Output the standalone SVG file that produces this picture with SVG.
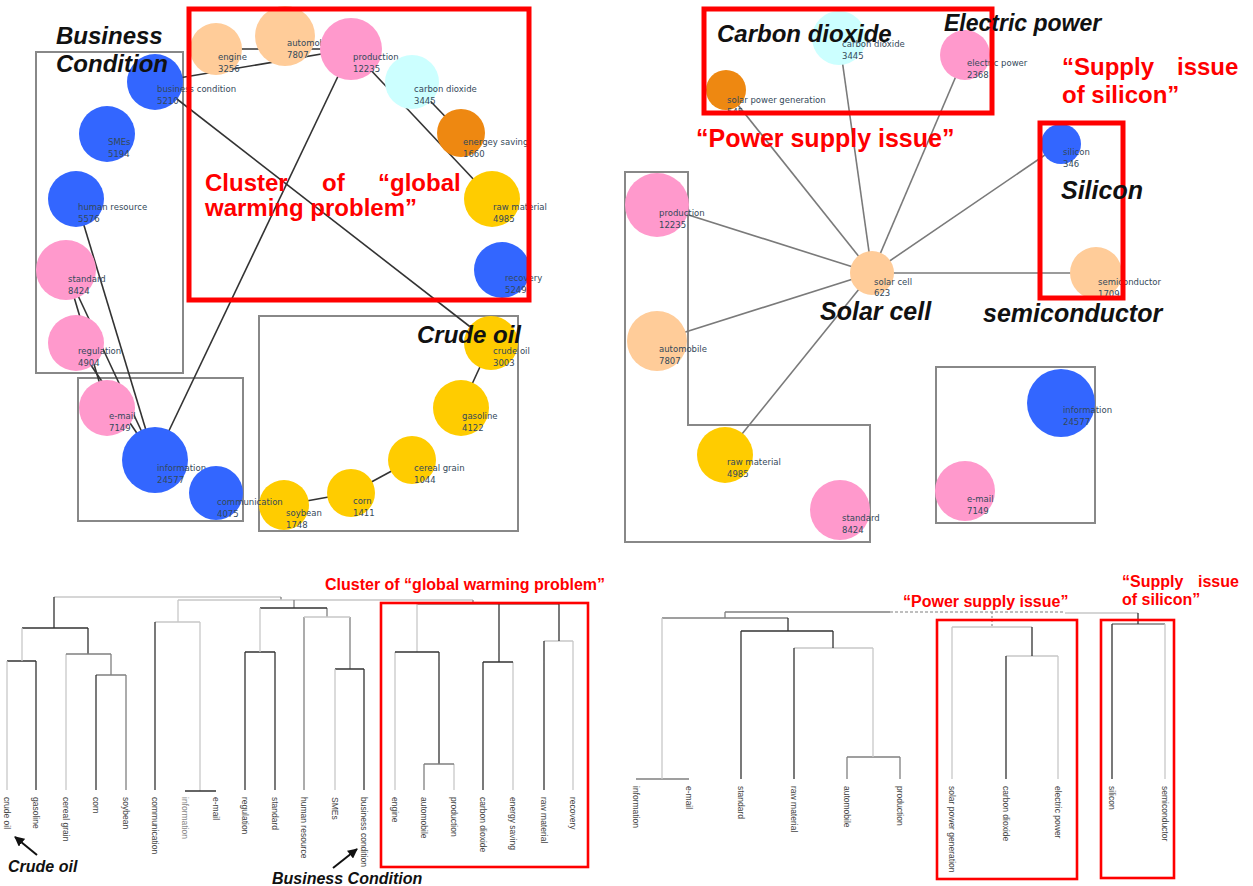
<svg xmlns="http://www.w3.org/2000/svg" width="1253" height="886" viewBox="0 0 1253 886">
  <style>
    .lk { stroke:#333; stroke-width:1.6; fill:none }
    .lk2 { stroke:#7a7a7a; stroke-width:1.6; fill:none }
    .grp { fill:none; stroke:#888; stroke-width:2 }
    .hl { fill:none; stroke:#ff0000; stroke-width:5 }
    .hl2 { fill:none; stroke:#ff0000; stroke-width:2.6 }
    .nl { font-family:"DejaVu Sans",Verdana,sans-serif; font-size:8.5px; fill:#34495a }
    .ann { font-family:"Liberation Sans",Arial,sans-serif; font-weight:bold; font-style:italic; fill:#111 }
    .rt { font-family:"Liberation Sans",Arial,sans-serif; font-weight:bold; fill:#ff0000 }
    .lf { font-family:"Liberation Sans",Arial,sans-serif; font-size:8.5px; fill:#444 }
    .d1 { stroke:#333; stroke-width:1.3; fill:none }
    .d2 { stroke:#808080; stroke-width:1.3; fill:none }
    .d3 { stroke:#c8c8c8; stroke-width:1.3; fill:none }
    .blue { fill:#3366ff } .pink { fill:#ff99cc } .peach { fill:#ffcc99 }
    .cyan { fill:#ccffff } .orange { fill:#ee8811 } .yellow { fill:#ffcc00 }
  </style>
  <defs>
    <marker id="arw" viewBox="0 0 10 10" refX="9" refY="5" markerWidth="5" markerHeight="5" orient="auto">
      <path d="M0 0 L10 5 L0 10 z" fill="#111"/>
    </marker>
  </defs>
  <rect width="1253" height="886" fill="#fff"/>

  <!-- ===== Left keyword network ===== -->
  <g id="tl-groups">
    <rect class="grp" x="36" y="52" width="147" height="321"/>
    <rect class="grp" x="78" y="378" width="165" height="143"/>
    <rect class="grp" x="259" y="316" width="259" height="215"/>
  </g>
  <g id="tl-connectors">
    <line class="lk" x1="155" y1="82" x2="351" y2="49"/>
    <line class="lk" x1="216" y1="49" x2="351" y2="49"/>
    <line class="lk" x1="155" y1="82" x2="491" y2="343"/>
    <line class="lk" x1="351" y1="49" x2="492" y2="199"/>
    <line class="lk" x1="412" y1="82" x2="461" y2="133"/>
    <line class="lk" x1="351" y1="49" x2="155" y2="460"/>
    <line class="lk" x1="76" y1="199" x2="155" y2="460"/>
    <line class="lk" x1="66" y1="270" x2="155" y2="460"/>
    <line class="lk" x1="66" y1="270" x2="107" y2="408"/>
    <line class="lk" x1="76" y1="343" x2="155" y2="460"/>
    <line class="lk" x1="491" y1="343" x2="461" y2="408"/>
    <line class="lk" x1="412" y1="460" x2="351" y2="493"/>
    <line class="lk" x1="351" y1="493" x2="284" y2="505"/>
  </g>
  <g id="tl-engine"><circle class="peach" cx="216" cy="49" r="26"/><text class="nl" x="218" y="60">engine<tspan x="218" dy="12">3256</tspan></text></g>
  <g id="tl-automobile"><circle class="peach" cx="285" cy="36" r="30"/><text class="nl" x="287" y="46">automobile<tspan x="287" dy="12">7807</tspan></text></g>
  <g id="tl-production"><circle class="pink" cx="351" cy="49" r="31"/><text class="nl" x="353" y="60">production<tspan x="353" dy="12">12235</tspan></text></g>
  <g id="tl-carbon-dioxide"><circle class="cyan" cx="412" cy="82" r="27"/><text class="nl" x="414" y="92">carbon dioxide<tspan x="414" dy="12">3445</tspan></text></g>
  <g id="tl-energy-saving"><circle class="orange" cx="461" cy="133" r="24"/><text class="nl" x="463" y="145">energey saving<tspan x="463" dy="12">1660</tspan></text></g>
  <g id="tl-raw-material"><circle class="yellow" cx="492" cy="199" r="28"/><text class="nl" x="493" y="210">raw material<tspan x="493" dy="12">4985</tspan></text></g>
  <g id="tl-recovery"><circle class="blue" cx="502" cy="270" r="28"/><text class="nl" x="505" y="281">recovery<tspan x="505" dy="12">5249</tspan></text></g>
  <g id="tl-business-condition"><circle class="blue" cx="155" cy="82" r="28"/><text class="nl" x="157" y="92">business condition<tspan x="157" dy="12">5210</tspan></text></g>
  <g id="tl-smes"><circle class="blue" cx="107" cy="134" r="28"/><text class="nl" x="108" y="145">SMEs<tspan x="108" dy="12">5194</tspan></text></g>
  <g id="tl-human-resource"><circle class="blue" cx="76" cy="199" r="28"/><text class="nl" x="78" y="210">human resource<tspan x="78" dy="12">5576</tspan></text></g>
  <g id="tl-standard"><circle class="pink" cx="66" cy="270" r="30"/><text class="nl" x="68" y="282">standard<tspan x="68" dy="12">8424</tspan></text></g>
  <g id="tl-regulation"><circle class="pink" cx="76" cy="343" r="28"/><text class="nl" x="78" y="354">regulation<tspan x="78" dy="12">4904</tspan></text></g>
  <g id="tl-email"><circle class="pink" cx="107" cy="408" r="28"/><text class="nl" x="109" y="419">e-mail<tspan x="109" dy="12">7149</tspan></text></g>
  <g id="tl-crude-oil"><circle class="yellow" cx="491" cy="343" r="27"/><text class="nl" x="493" y="354">crude oil<tspan x="493" dy="12">3003</tspan></text></g>
  <g id="tl-gasoline"><circle class="yellow" cx="461" cy="408" r="28"/><text class="nl" x="462" y="419">gasoline<tspan x="462" dy="12">4122</tspan></text></g>
  <g id="tl-cereal-grain"><circle class="yellow" cx="412" cy="460" r="24"/><text class="nl" x="414" y="471">cereal grain<tspan x="414" dy="12">1044</tspan></text></g>
  <g id="tl-corn"><circle class="yellow" cx="351" cy="493" r="24"/><text class="nl" x="353" y="504">corn<tspan x="353" dy="12">1411</tspan></text></g>
  <g id="tl-soybean"><circle class="yellow" cx="284" cy="505" r="25"/><text class="nl" x="286" y="516">soybean<tspan x="286" dy="12">1748</tspan></text></g>
  <g id="tl-information"><circle class="blue" cx="155" cy="460" r="33"/><text class="nl" x="157" y="471">information<tspan x="157" dy="12">24577</tspan></text></g>
  <g id="tl-communication"><circle class="blue" cx="216" cy="493" r="27"/><text class="nl" x="217" y="505">communication<tspan x="217" dy="12">4075</tspan></text></g>

  <rect class="hl" x="189" y="9" width="340" height="291"/>
  <text class="ann" x="56" y="44" font-size="24">Business</text>
  <text class="ann" x="56" y="72" font-size="24">Condition</text>
  <text class="rt" font-size="24" y="191"><tspan x="205">Cluster</tspan><tspan x="322">of</tspan><tspan x="378">“global</tspan></text>
  <text class="rt" font-size="24" x="205" y="216">warming problem”</text>
  <text class="ann" x="417" y="343" font-size="24">Crude oil</text>

  <!-- ===== Right keyword network (solar cell) ===== -->
  <g id="tr-groups">
    <path class="grp" d="M625 172 H688 V425 H870 V542 H625 Z"/>
    <rect class="grp" x="936" y="367" width="159" height="156"/>
  </g>
  <g id="tr-connectors">
    <line class="lk2" x1="872" y1="273" x2="726" y2="90"/>
    <line class="lk2" x1="872" y1="273" x2="839" y2="38"/>
    <line class="lk2" x1="872" y1="273" x2="965" y2="55"/>
    <line class="lk2" x1="872" y1="273" x2="1061" y2="144"/>
    <line class="lk2" x1="872" y1="273" x2="1096" y2="273"/>
    <line class="lk2" x1="872" y1="273" x2="657" y2="205"/>
    <line class="lk2" x1="872" y1="273" x2="657" y2="341"/>
    <line class="lk2" x1="872" y1="273" x2="725" y2="455"/>
  </g>
  <g id="tr-solar-power-generation"><circle class="orange" cx="726" cy="90" r="20"/><text class="nl" x="727" y="103">solar power generation<tspan x="727" dy="12">545</tspan></text></g>
  <g id="tr-carbon-dioxide"><circle class="cyan" cx="839" cy="38" r="27"/><text class="nl" x="842" y="47">carbon dioxide<tspan x="842" dy="12">3445</tspan></text></g>
  <g id="tr-electric-power"><circle class="pink" cx="965" cy="55" r="25"/><text class="nl" x="967" y="66">electric power<tspan x="967" dy="12">2368</tspan></text></g>
  <g id="tr-silicon"><circle class="blue" cx="1061" cy="144" r="20"/><text class="nl" x="1063" y="155">silicon<tspan x="1063" dy="12">346</tspan></text></g>
  <g id="tr-semiconductor"><circle class="peach" cx="1096" cy="273" r="26"/><text class="nl" x="1098" y="285">semiconductor<tspan x="1098" dy="12">1709</tspan></text></g>
  <g id="tr-solar-cell"><circle class="peach" cx="872" cy="273" r="22"/><text class="nl" x="874" y="285">solar cell<tspan x="874" dy="11">623</tspan></text></g>
  <g id="tr-production"><circle class="pink" cx="657" cy="205" r="32"/><text class="nl" x="659" y="216">production<tspan x="659" dy="12">12235</tspan></text></g>
  <g id="tr-automobile"><circle class="peach" cx="657" cy="341" r="30"/><text class="nl" x="659" y="352">automobile<tspan x="659" dy="12">7807</tspan></text></g>
  <g id="tr-raw-material"><circle class="yellow" cx="725" cy="455" r="28"/><text class="nl" x="727" y="465">raw material<tspan x="727" dy="12">4985</tspan></text></g>
  <g id="tr-standard"><circle class="pink" cx="840" cy="510" r="30"/><text class="nl" x="842" y="521">standard<tspan x="842" dy="12">8424</tspan></text></g>
  <g id="tr-information"><circle class="blue" cx="1061" cy="403" r="34"/><text class="nl" x="1063" y="413">information<tspan x="1063" dy="12">24577</tspan></text></g>
  <g id="tr-email"><circle class="pink" cx="965" cy="491" r="30"/><text class="nl" x="967" y="502">e-mail<tspan x="967" dy="12">7149</tspan></text></g>

  <rect class="hl" x="704" y="9" width="288" height="104"/>
  <rect class="hl" x="1040" y="123" width="83" height="175"/>
  <text class="ann" x="717" y="42" font-size="24">Carbon dioxide</text>
  <text class="ann" x="944" y="31" font-size="23">Electric power</text>
  <text class="rt" x="696" y="147" font-size="25">“Power supply issue”</text>
  <text class="rt" font-size="24" y="75"><tspan x="1062">“Supply</tspan><tspan x="1177">issue</tspan></text>
  <text class="rt" x="1062" y="103" font-size="24">of silicon”</text>
  <text class="ann" x="1061" y="199" font-size="25">Silicon</text>
  <text class="ann" x="820" y="320" font-size="25">Solar cell</text>
  <text class="ann" x="983" y="322" font-size="25">semiconductor</text>

  <!-- ===== Left dendrogram ===== -->
  <g id="dendro-left">
    <path class="d3" d="M54 597 H281"/>
    <path class="d2" d="M281 597 V600"/>
    <path class="d1" d="M54 597 V628 M22 628 H88 M7 661 H36 M36 661 V790 M88 628 V654"/>
    <path class="d3" d="M22 628 V661 M7 661 V790 M66 654 V790"/>
    <path class="d2" d="M66 654 H111 M111 654 V675 M96 675 H126 M126 675 V790"/>
    <path class="d1" d="M96 675 V790"/>
    <path class="d3" d="M178 600 H473 M178 600 V622 M155 622 H200 M200 622 V791"/>
    <path class="d1" d="M155 622 V790 M185 791 H216"/>
    <path class="d2" d="M294 600 V608 M327 608 V617 M304 617 V790 M350 617 V669"/>
    <path class="d1" d="M260 608 H327 M245 652 H275 M245 652 V790 M275 652 V790 M335 669 H364 M364 669 V790"/>
    <path class="d3" d="M260 608 V652 M304 617 H350 M335 669 V790"/>
    <path class="d2" d="M473 600 V604 M417 604 H559"/>
    <path class="d3" d="M417 604 V652 M395 652 V790 M454 764 V790 M513 662 V790 M544 641 H573 M573 641 V790"/>
    <path class="d1" d="M395 652 H439 M439 652 V764 M499 604 V662 M483 662 H513 M483 662 V790 M559 604 V641 M544 641 V790"/>
    <path class="d2" d="M424 764 H454 M424 764 V790"/>
    <g class="lf">
      <text transform="translate(4 797) rotate(90)">crude oil</text>
      <text transform="translate(33 797) rotate(90)">gasoline</text>
      <text transform="translate(63 797) rotate(90)">cereal grain</text>
      <text transform="translate(93 797) rotate(90)">corn</text>
      <text transform="translate(123 797) rotate(90)">soybean</text>
      <text transform="translate(152 797) rotate(90)">communication</text>
      <text transform="translate(182 797) rotate(90)" fill="#888">information</text>
      <text transform="translate(213 797) rotate(90)">e-mail</text>
      <text transform="translate(242 797) rotate(90)">regulation</text>
      <text transform="translate(272 797) rotate(90)">standard</text>
      <text transform="translate(301 797) rotate(90)">human resource</text>
      <text transform="translate(332 797) rotate(90)">SMEs</text>
      <text transform="translate(361 797) rotate(90)">business condition</text>
      <text transform="translate(392 797) rotate(90)">engine</text>
      <text transform="translate(421 797) rotate(90)">automobile</text>
      <text transform="translate(451 797) rotate(90)">production</text>
      <text transform="translate(480 797) rotate(90)">carbon dioxide</text>
      <text transform="translate(510 797) rotate(90)">energy saving</text>
      <text transform="translate(541 797) rotate(90)">raw material</text>
      <text transform="translate(570 797) rotate(90)">recovery</text>
    </g>
  </g>
  <rect class="hl2" x="381" y="603" width="207" height="264"/>
  <text class="rt" x="325" y="590" font-size="16">Cluster of “global warming problem”</text>
  <g id="pointers">
    <path d="M37 855 L15 837" stroke="#111" stroke-width="2" fill="none" marker-end="url(#arw)"/>
    <path d="M333 868 L357 849" stroke="#111" stroke-width="2" fill="none" marker-end="url(#arw)"/>
  </g>
  <text class="ann" x="8" y="872" font-size="16">Crude oil</text>
  <text class="ann" x="272" y="884" font-size="16">Business Condition</text>

  <!-- ===== Right dendrogram ===== -->
  <g id="dendro-right">
    <path class="d2" d="M725 612 H890 M725 612 V618 M662 618 H788 M636 779 H689 M847 757 H900 M847 757 V779 M900 757 V779 M1112 624 H1165"/>
    <path d="M890 612 H1065" stroke="#aaa" stroke-width="1.3" stroke-dasharray="3 2" fill="none"/>
    <path d="M992 612 V627" stroke="#999" stroke-width="1.3" stroke-dasharray="2 2" fill="none"/>
    <path class="d3" d="M1065 613 H1138 M662 618 V779 M794 648 H873 M873 648 V757 M952 627 H1032 M952 627 V779 M1006 656 H1058 M1058 656 V779 M1165 624 V779"/>
    <path class="d1" d="M788 618 V631 M741 631 H833 M741 631 V779 M833 631 V648 M794 648 V779 M1032 627 V656 M1006 656 V779 M1138 613 V624 M1112 624 V779"/>
    <g class="lf">
      <text transform="translate(633 786) rotate(90)">information</text>
      <text transform="translate(686 786) rotate(90)">e-mail</text>
      <text transform="translate(738 786) rotate(90)">standard</text>
      <text transform="translate(791 786) rotate(90)">raw material</text>
      <text transform="translate(844 786) rotate(90)">automobile</text>
      <text transform="translate(897 786) rotate(90)">production</text>
      <text transform="translate(949 786) rotate(90)">solar power generation</text>
      <text transform="translate(1003 786) rotate(90)">carbon dioxide</text>
      <text transform="translate(1055 786) rotate(90)">electric power</text>
      <text transform="translate(1109 786) rotate(90)">silicon</text>
      <text transform="translate(1162 786) rotate(90)">semiconductor</text>
    </g>
  </g>
  <rect class="hl2" x="937" y="620" width="140" height="259"/>
  <rect class="hl2" x="1101" y="620" width="73" height="258"/>
  <text class="rt" x="903" y="607" font-size="16">“Power supply issue”</text>
  <text class="rt" font-size="16" y="587"><tspan x="1122">“Supply</tspan><tspan x="1198">issue</tspan></text>
  <text class="rt" x="1122" y="605" font-size="16">of silicon”</text>
</svg>
